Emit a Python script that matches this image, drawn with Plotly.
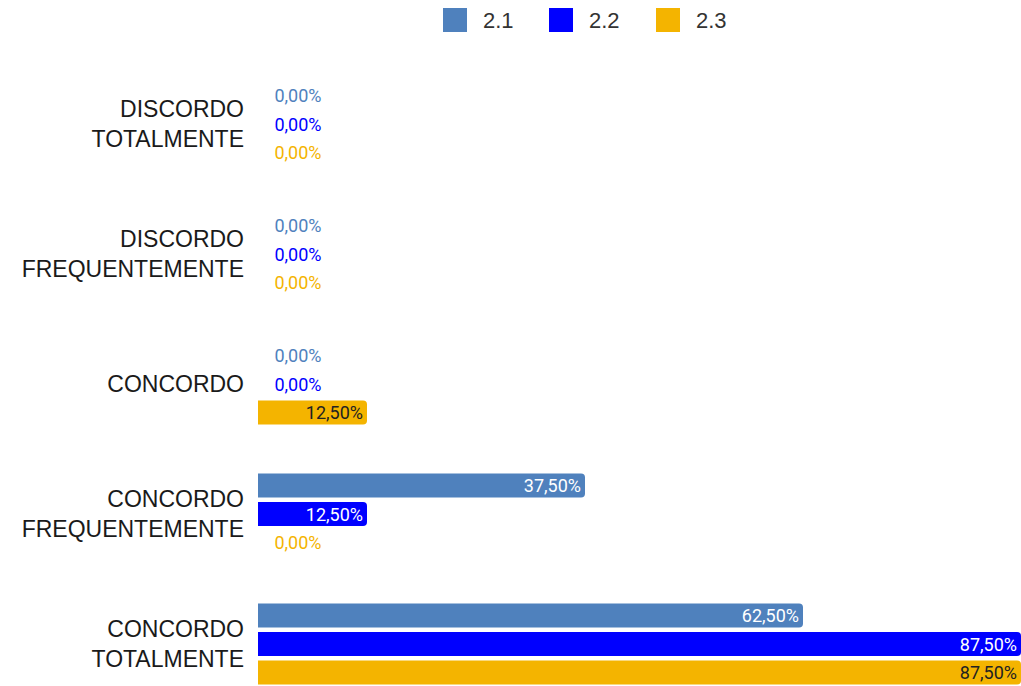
import plotly.graph_objects as go

# Response categories (top to bottom) and the share per question
categories = [
    "DISCORDO<br>TOTALMENTE",
    "DISCORDO<br>FREQUENTEMENTE",
    "CONCORDO",
    "CONCORDO<br>FREQUENTEMENTE",
    "CONCORDO<br>TOTALMENTE",
]
series_names = ["2.1", "2.2", "2.3"]
values_21 = [0.0, 0.0, 0.0, 37.5, 62.5]
values_22 = [0.0, 0.0, 0.0, 12.5, 87.5]
values_23 = [0.0, 0.0, 12.5, 0.0, 87.5]

colors = ["#4F81BD", "#0000FF", "#F4B400"]
inside_text_colors = ["#FFFFFF", "#FFFFFF", "#222222"]

W, H = 1021, 686
ML, MR, MT, MB = 258, 0, 59, 0
plot_w = W - ML - MR
plot_h = H - MT - MB


def fmt(v):
    return f"{v:.2f}".replace(".", ",") + "%"


fig = go.Figure()
for name, vals, col, itc in zip(series_names, [values_21, values_22, values_23],
                                colors, inside_text_colors):
    texts = [fmt(v) if v > 0 else "\u00a0\u00a0\u00a0" + fmt(v) for v in vals]
    positions = ["inside" if v > 0 else "outside" for v in vals]
    fig.add_trace(go.Bar(
        y=categories, x=vals, name=name, orientation="h",
        marker=dict(color=col, line=dict(width=0)),
        text=texts, textposition=positions, insidetextanchor="end",
        insidetextfont=dict(color=itc, size=18, family="Roboto"),
        outsidetextfont=dict(color=col, size=18, family="Roboto"),
        textangle=0, constraintext="none", cliponaxis=False,
        showlegend=False, hoverinfo="skip",
    ))

# Legend drawn as squares with labels above the plot
def px_x(x):
    return (x - ML) / plot_w


def px_y(y):
    return 1 - (y - MT) / plot_h


shapes = []
annotations = []
legend_x = [443, 549, 656]
for lx, name, col in zip(legend_x, series_names, colors):
    shapes.append(dict(
        type="rect", xref="paper", yref="paper",
        x0=px_x(lx), x1=px_x(lx + 24), y0=px_y(32), y1=px_y(8),
        fillcolor=col, line=dict(width=0), layer="above",
    ))
    annotations.append(dict(
        xref="paper", yref="paper", x=px_x(lx + 38), y=px_y(20),
        xanchor="left", yanchor="middle", text=name, showarrow=False,
        font=dict(size=22, color="#333333", family="Liberation Sans, Arial"),
    ))

fig.update_layout(
    width=W, height=H,
    margin=dict(l=ML, r=MR, t=MT, b=MB, pad=0),
    paper_bgcolor="white", plot_bgcolor="white",
    barmode="group", bargap=0.342, bargroupgap=0.16,
    barcornerradius=4,
    uniformtext=dict(minsize=18, mode="show"),
    shapes=shapes, annotations=annotations,
    xaxis=dict(range=[0, 87.5], visible=False, showgrid=False, zeroline=False),
    yaxis=dict(
        range=[4.323, -0.5], type="category",
        tickfont=dict(size=23, color="#1a1a1a", family="Liberation Sans, Arial"),
        ticks="", showgrid=False, zeroline=False, showline=False,
        ticklabelstandoff=13,
    ),
    font=dict(family="Roboto"),
)

fig.write_html("out.html")
